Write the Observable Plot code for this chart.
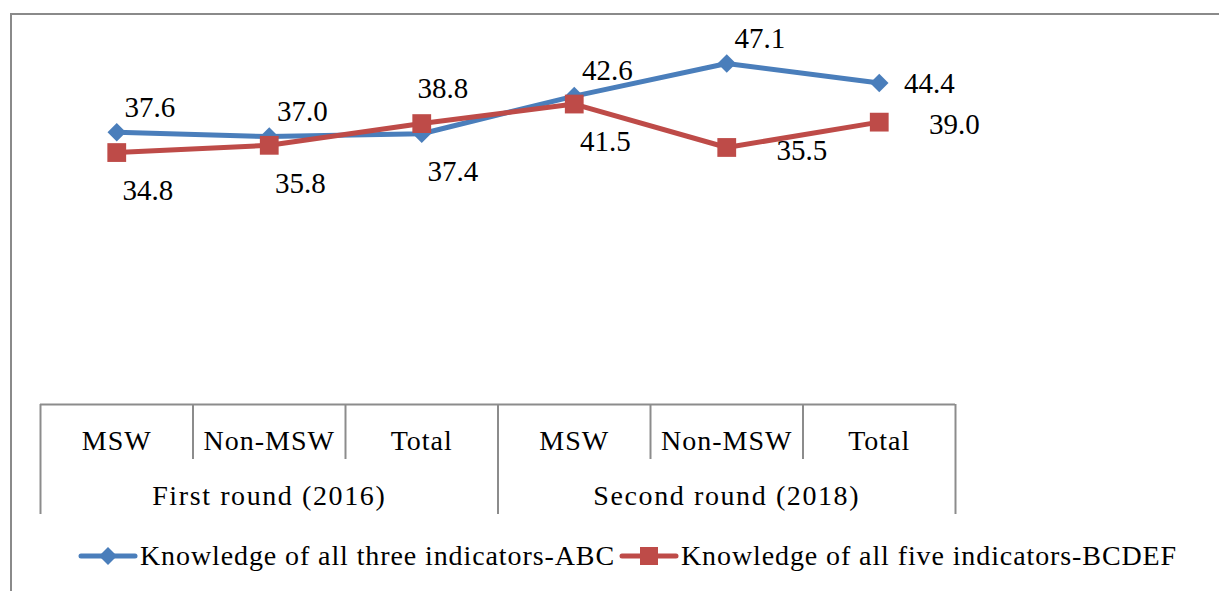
<!DOCTYPE html>
<html>
<head>
<meta charset="utf-8">
<script src="https://cdn.jsdelivr.net/npm/d3@7"></script>
<script src="https://cdn.jsdelivr.net/npm/@observablehq/plot@0.6"></script>
<style>
  html, body { margin: 0; padding: 0; background: #fff; overflow: hidden; width: 1219px; height: 591px; }
  #frame { position: absolute; left: 10px; top: 13px; width: 1400px; height: 800px; border-top: 2px solid #8a8a8a; border-left: 2px solid #8a8a8a; }
  #chart { position: absolute; left: 0; top: 0; }
  #legend { position: absolute; left: 78px; top: 540px; display: flex; align-items: center; font-family: "Liberation Serif", serif; font-size: 28px; letter-spacing: 0.9px; color: #000; white-space: nowrap; }
  #legend .item { display: flex; align-items: center; }
  #legend svg { display: block; }
</style>
</head>
<body>
<div id="frame"></div>
<div id="chart"></div>
<div id="legend"></div>
<script>
// ---- data ----
const categories = ["MSW", "Non-MSW", "Total", "MSW", "Non-MSW", "Total"];
const rounds = ["First round (2016)", "First round (2016)", "First round (2016)",
                "Second round (2018)", "Second round (2018)", "Second round (2018)"];
const seriesNames = ["Knowledge of all three indicators-ABC", "Knowledge of all five indicators-BCDEF"];
const abcValues = [37.6, 37.0, 37.4, 42.6, 47.1, 44.4];
const bcdefValues = [34.8, 35.8, 38.8, 41.5, 35.5, 39.0];
// label placement relative to each point
const abcPlacement = ["above", "above", "below", "above", "above", "right"];
const bcdefPlacement = ["below", "below", "aboveLeft", "below", "farRight", "farRight"];

const colors = ["#4A7EBB", "#BE4B48"];
const font = "Liberation Serif, Times New Roman, serif";

const rows = [];
categories.forEach((c, i) => {
  rows.push({i, series: seriesNames[0], value: abcValues[i], place: abcPlacement[i]});
  rows.push({i, series: seriesNames[1], value: bcdefValues[i], place: bcdefPlacement[i]});
});
const abcRows = rows.filter(d => d.series === seriesNames[0]);
const bcdefRows = rows.filter(d => d.series === seriesNames[1]);

// category table structure
const catRows = categories.map((c, i) => ({i, label: c}));
const boundaries = d3.range(categories.length + 1).map(k => ({
  x: k - 0.5,
  group: k === 0 || k === categories.length || rounds[k] !== rounds[k - 1]
}));
const groupRows = Array.from(d3.group(catRows, d => rounds[d.i]), ([name, items]) => ({
  name, x: d3.mean(items, d => d.i)
}));

const offsets = {
  above: {dx: 33, dy: -25},
  aboveLeft: {dx: 21, dy: -35},
  below: {dx: 31, dy: 38},
  right: {dx: 50, dy: 1},
  farRight: {dx: 75, dy: 3}
};
const labelMarks = [];
for (const [k, o] of Object.entries(offsets)) {
  labelMarks.push(Plot.text(rows.filter(d => d.place === k), {
    x: "i", y: "value", text: d => d.value.toFixed(1),
    dx: o.dx, dy: o.dy, fontSize: 29, fill: "#000", textAnchor: "middle"
  }));
}

const chart = Plot.plot({
  width: 1219,
  height: 530,
  x: {type: "linear", domain: [-0.5, categories.length - 0.5], range: [40, 955], axis: null},
  y: {type: "linear", domain: [0, 50], range: [404, 42], axis: null},
  style: {fontFamily: font, fontSize: "28px", background: "transparent", overflow: "visible"},
  marks: [
    // axis line and category table
    Plot.ruleY([0], {x1: -0.5, x2: categories.length - 0.5, stroke: "#8c8c8c", strokeWidth: 2}),
    Plot.ruleX(boundaries.filter(d => !d.group), {x: "x", y1: 0, y2: 0, insetBottom: -55, stroke: "#8c8c8c", strokeWidth: 2}),
    Plot.ruleX(boundaries.filter(d => d.group), {x: "x", y1: 0, y2: 0, insetBottom: -110, stroke: "#8c8c8c", strokeWidth: 2}),
    Plot.text(catRows, {x: "i", y: () => 0, text: "label", dy: 37, fontSize: 28, fill: "#000"}),
    Plot.text(groupRows, {x: "x", y: () => 0, text: "name", dy: 92, fontSize: 28, fill: "#000"}),
    // series
    Plot.line(abcRows, {x: "i", y: "value", stroke: colors[0], strokeWidth: 5}),
    Plot.line(bcdefRows, {x: "i", y: "value", stroke: colors[1], strokeWidth: 5}),
    Plot.dot(abcRows, {x: "i", y: "value", symbol: "square", rotate: 45, r: 7.4, fill: colors[0], stroke: null}),
    Plot.dot(bcdefRows, {x: "i", y: "value", symbol: "square", r: 10.6, fill: colors[1], stroke: null}),
    ...labelMarks
  ]
});
const texts = d3.select(chart).selectAll("text");
texts.filter(function() { return categories.includes(this.textContent); })
  .attr("letter-spacing", "1px").style("letter-spacing", "1px");
texts.filter(function() { return rounds.includes(this.textContent); })
  .attr("letter-spacing", "1.6px").style("letter-spacing", "1.6px");
document.getElementById("chart").appendChild(chart);

// legend
const legend = document.getElementById("legend");
const symbols = ["diamond", "square"];
seriesNames.forEach((name, k) => {
  const item = document.createElement("div");
  item.className = "item";
  const sw = d3.create("svg").attr("width", 60).attr("height", 30);
  sw.append("line").attr("x1", 3).attr("x2", 57).attr("y1", 15).attr("y2", 15)
    .attr("stroke", colors[k]).attr("stroke-width", 5).attr("stroke-linecap", "round");
  if (symbols[k] === "diamond") {
    sw.append("path").attr("d", "M30,6L39,15L30,24L21,15Z").attr("fill", colors[k]);
  } else {
    sw.append("rect").attr("x", 21).attr("y", 6).attr("width", 18).attr("height", 18).attr("fill", colors[k]);
  }
  item.appendChild(sw.node());
  const t = document.createElement("span");
  t.textContent = name;
  t.style.marginLeft = "2px";
  t.style.marginRight = k === 0 ? "4px" : "0";
  item.appendChild(t);
  legend.appendChild(item);
});
</script>
</body>
</html>
